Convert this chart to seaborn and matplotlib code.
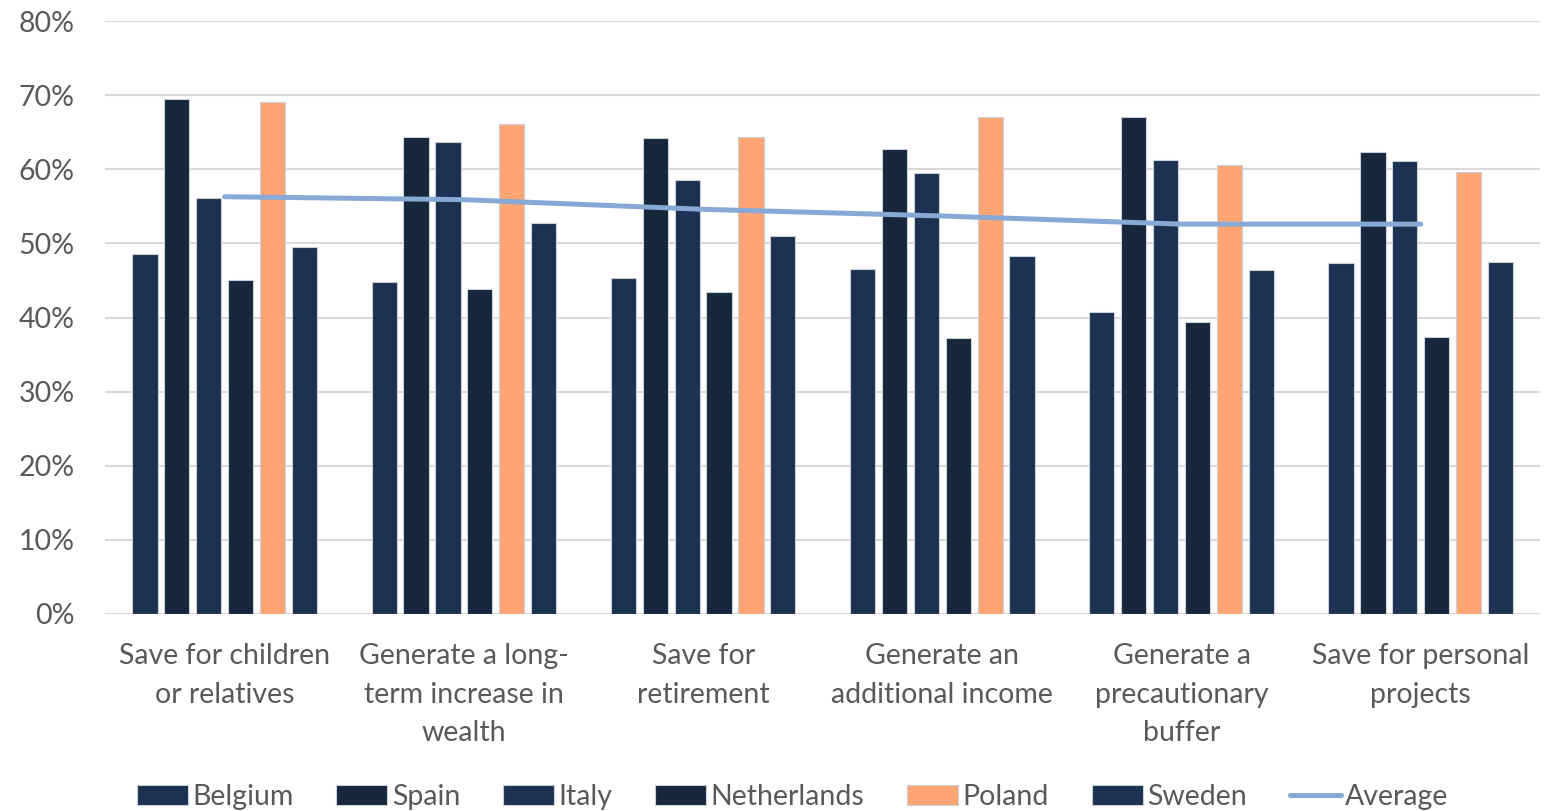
import matplotlib
matplotlib.use("Agg")
import matplotlib.pyplot as plt
import seaborn as sns
import pandas as pd
from matplotlib.ticker import PercentFormatter

# категории и значения (доли, %)
categories = [
    "Save for children\nor relatives",
    "Generate a long-\nterm increase in\nwealth",
    "Save for\nretirement",
    "Generate an\nadditional income",
    "Generate a\nprecautionary\nbuffer",
    "Save for personal\nprojects",
]
countries = ["Belgium", "Spain", "Italy", "Netherlands", "Poland", "Sweden"]

belgium = [48.6, 44.8, 45.3, 46.5, 40.7, 47.4]
spain = [69.5, 64.3, 64.2, 62.8, 67.0, 62.4]
italy = [56.1, 63.7, 58.6, 59.5, 61.3, 61.1]
netherlands = [45.1, 43.8, 43.5, 37.2, 39.4, 37.4]
poland = [69.1, 66.1, 64.4, 67.0, 60.6, 59.6]
sweden = [49.5, 52.8, 51.0, 48.3, 46.4, 47.5]
average = [56.3, 55.9, 54.6, 53.7, 52.6, 52.6]

series = [belgium, spain, italy, netherlands, poland, sweden]
rows = []
for country, vals in zip(countries, series):
    for cat, v in zip(categories, vals):
        rows.append({"category": cat, "country": country, "value": v})
df = pd.DataFrame(rows)
avg_df = pd.DataFrame({"category": categories, "value": average})

palette = {
    "Belgium": "#1d3150",
    "Spain": "#16263b",
    "Italy": "#1d3150",
    "Netherlands": "#16263b",
    "Poland": "#ffa574",
    "Sweden": "#1d3150",
}

sns.set_style("white")
plt.rcParams["font.family"] = ["Lato", "DejaVu Sans"]

fig = plt.figure(figsize=(15.45, 8.11), dpi=100)
ax = fig.add_axes([0.068, 0.243, 0.929, 0.731])

sns.barplot(data=df, x="category", y="value", hue="country", palette=palette,
            width=0.8, gap=0.21, saturation=1, edgecolor="#c9d0da",
            linewidth=0.8, errorbar=None, ax=ax, zorder=3)
sns.lineplot(data=avg_df, x="category", y="value", color="#86a9d6",
             linewidth=3.6, ax=ax, label="Average", zorder=4,
             solid_capstyle="round")

ax.set_xlim(-0.5, 5.5)
ax.set_ylim(0, 80)
ax.set_yticks(range(0, 81, 10))
ax.yaxis.set_major_formatter(PercentFormatter(decimals=0))
ax.set_xticks(range(len(categories)))
ax.set_xticklabels(categories, linespacing=1.6)
ax.grid(axis="y", color="#d9d9d9", linewidth=1.5, zorder=0)
ax.set_axisbelow(True)
for s in ax.spines.values():
    s.set_visible(False)
ax.tick_params(axis="both", length=0, labelsize=20.5, labelcolor="#595959")
ax.tick_params(axis="y", pad=22)
ax.tick_params(axis="x", pad=21)
ax.set_xlabel("")
ax.set_ylabel("")

handles, labels = ax.get_legend_handles_labels()
ax.get_legend().remove()
fig.legend(handles, labels, loc="lower center", bbox_to_anchor=(0.513, -0.03),
           ncol=7, frameon=False, fontsize=20.5, labelcolor="#595959",
           handlelength=1.8, handletextpad=0.15, columnspacing=1.5)

fig.savefig("out.png", dpi=100)
